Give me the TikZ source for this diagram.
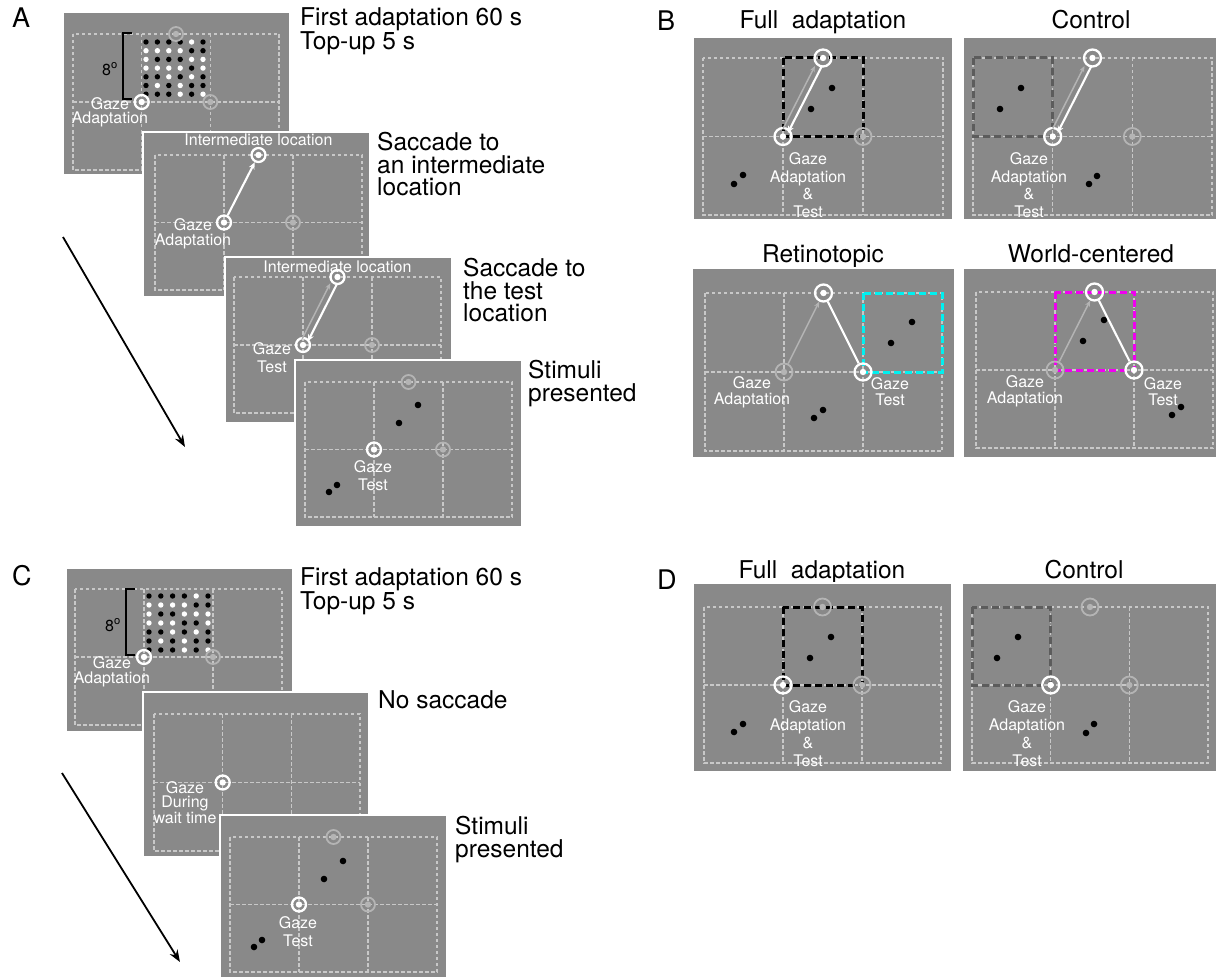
\documentclass[tikz,border=0pt]{standalone}
\usepackage{fontspec}
\setmainfont{TeX Gyre Heros}
\usetikzlibrary{arrows.meta}
\definecolor{scrgray}{HTML}{898989}
\definecolor{gridgray}{HTML}{C8C8C8}
\definecolor{ringgray}{HTML}{B4B4B4}
\definecolor{sqgray}{HTML}{5C5C5C}
\definecolor{dk}{gray}{0}
\definecolor{dw}{gray}{1}
\definecolor{cyanbox}{HTML}{00F0F0}
\definecolor{magbox}{HTML}{F000F0}
\tikzset{
  scr/.style={fill=scrgray, draw=white, line width=2pt},
  gridl/.style={draw=gridgray, line width=1.5pt, dash pattern=on 3.5pt off 2.5pt},
  wring/.style={circle, draw=white, line width=2.3pt, minimum size=#1, inner sep=0pt,
    path picture={\fill[white] (path picture bounding box.center) circle (3.2pt);}},
  wring/.default=14pt,
  gring/.style={circle, draw=ringgray, line width=1.8pt, minimum size=#1, inner sep=0pt,
    path picture={\fill[ringgray] (path picture bounding box.center) circle (3.2pt);}},
  gring/.default=14pt,
  wline/.style={draw=white, line width=2.1pt},
  warr/.style={wline, -{Stealth[length=7pt,width=6pt]}},
  garr/.style={draw=ringgray, line width=1.5pt, -{Stealth[length=6pt,width=5pt]}},
  bigarr/.style={draw=black, line width=1.8pt, -{Stealth[length=12pt,width=9pt]}},
  wlab/.style={text=white, font=\fontsize{16}{#1}\selectfont, align=center, inner sep=0pt},
  wlab/.default=17,
  btxt/.style={font=\fontsize{24.5}{22.5}\selectfont, align=left, anchor=north west, inner sep=0pt},
  ttl/.style={font=\fontsize{24.5}{22.5}\selectfont, anchor=base, inner sep=0pt},
  plet/.style={font=\fontsize{27}{27}\selectfont, anchor=base west, inner sep=0pt},
  sqbox/.style={line width=3pt, dash pattern=on 7pt off 4pt},
  degl/.style={font=\fontsize{16}{16}\selectfont, inner sep=0pt},
  bracket/.style={draw=black, line width=1.8pt}
}
\newcommand\myscreen[8]{%
  \draw[scr] (#1,#2) rectangle (#3,#4);
  \draw[gridl] (#5,#6) rectangle (#7,#8);
  \draw[gridl] ({#5+(#7-#5)/3},#6) -- ({#5+(#7-#5)/3},#8);
  \draw[gridl] ({#5+2*(#7-#5)/3},#6) -- ({#5+2*(#7-#5)/3},#8);
  \draw[gridl] (#5,{(#6+#8)/2}) -- (#7,{(#6+#8)/2});
}
\newcommand\mydots[5]{%
  \foreach \row [count=\r] in {#5} {
    \foreach \c [count=\i] in \row {
      \fill[color=\c] ({#1+(\i-1)*#3},{#2+(\r-1)*#4}) circle (2.7pt);
    }
  }
}
\newcommand\blackdot[2]{\fill[black] (#1,#2) circle (3.3pt);}
\begin{document}
\begin{tikzpicture}[x=1pt,y=-1pt]
\useasboundingbox (0,0) rectangle (1217,979);
\fill[white] (0,0) rectangle (1217,979);

% ================= Panel A =================
\node[plet] (letA) at (12,28) {A};
% screen A1
\myscreen{63}{12}{290}{175}{73}{34}{279}{170}
\mydots{146}{42}{11.4}{8.7}{{dk,dk,dk,dk,dw,dk},{dw,dw,dw,dw,dk,dk},{dw,dk,dk,dk,dw,dw},{dw,dw,dw,dw,dk,dw},{dk,dk,dw,dk,dw,dk},{dk,dw,dk,dw,dk,dk},{dk,dk,dk,dw,dk,dw}}
\draw[bracket] (132,33) -- (123,33) -- (123,99) -- (132,99);
\node[degl] (degA) at (110,69) {8\textsuperscript{o}};
\node[gring] (a1t) at (176,34) {};
\node[gring] (a1r) at (210.3,102) {};
\node[wring] (a1g) at (141.7,102) {};
\node[wlab=14] (a1l) at (110,112) {Gaze\\Adaptation};
\node[btxt] (tA1) at (300,7) {First adaptation 60 s\\Top-up 5 s};
% screen A2
\myscreen{143}{132}{370}{297}{155}{155}{362}{290}
\node[gring] (a2r) at (293,222.5) {};
\node[wring] (a2g) at (224,222.5) {};
\node[wring] (a2t) at (258.5,155) {};
\draw[warr] (a2g) -- (a2t);
\node[wlab] (a2i) at (258.5,140) {Intermediate location};
\node[wlab=15] (a2l) at (193,234) {Gaze\\Adaptation};
\node[btxt] (tA2) at (377,132) {Saccade to\\an intermediate\\location};
% screen A3
\myscreen{225}{257}{452}{423}{234}{277}{441}{413}
\node[gring] (a3r) at (372,345) {};
\node[wring] (a3g) at (303,345) {};
\node[wring] (a3t) at (337.5,277) {};
\draw[garr, shorten <=7pt, shorten >=7pt] ([xshift=-4pt]a3g.center) -- ([xshift=-4pt]a3t.center);
\draw[warr, shorten <=7pt, shorten >=4pt] ([xshift=3pt]a3t.center) -- ([xshift=3pt]a3g.center);
\node[wlab] (a3i) at (337.5,267) {Intermediate location};
\node[wlab=18] (a3l) at (272,358) {Gaze\\Test};
\node[btxt] (tA3) at (463,258) {Saccade to\\the test\\location};
% screen A4
\myscreen{295}{360}{522}{527}{305}{382}{512}{517}
\node[gring] (a4t) at (408.5,382) {};
\node[gring] (a4r) at (443,449.5) {};
\node[wring] (a4g) at (374,449.5) {};
\blackdot{418}{405}\blackdot{399}{423}\blackdot{337}{485}\blackdot{329}{492}
\node[wlab=18] (a4l) at (373,476) {Gaze\\Test};
\node[btxt] (tA4) at (528,360) {Stimuli\\presented};
% time arrow A
\coordinate (arA1) at (63,237);
\coordinate (arA2) at (185,447);
\draw[bigarr] (arA1) -- (arA2);

% ================= Panel C =================
\node[plet] (letC) at (12,585) {C};
\myscreen{66}{568}{293}{732}{75}{589}{282}{725}
\mydots{149}{596}{11.8}{9}{{dk,dk,dk,dk,dw,dk},{dw,dw,dw,dw,dk,dk},{dw,dk,dk,dw,dw,dw},{dw,dw,dw,dk,dk,dw},{dk,dk,dw,dk,dw,dk},{dk,dw,dk,dw,dk,dk},{dk,dk,dk,dw,dk,dw}}
\draw[bracket] (135,589) -- (126,589) -- (126,655) -- (135,655);
\node[degl] (degC) at (113,625) {8\textsuperscript{o}};
\node[gring] (c1r) at (213,657) {};
\node[wring] (c1g) at (144,657) {};
\node[wlab=15] (c1l) at (112,671.5) {Gaze\\Adaptation};
\node[btxt] (tC1) at (300,567) {First adaptation 60 s\\Top-up 5 s};
% C2
\myscreen{143}{692}{369}{857}{154}{714}{360}{851}
\node[wring] (c2g) at (222.7,782.5) {};
\node[wlab=14] (c2l) at (185,803) {Gaze\\During\\wait time};
\node[btxt] (tC2) at (378,690) {No saccade};
% C3
\myscreen{220}{815}{447}{978}{230}{837}{437}{972}
\node[gring] (c3t) at (333.5,837) {};
\node[gring] (c3r) at (368,904.5) {};
\node[wring] (c3g) at (299,904.5) {};
\blackdot{343}{861}\blackdot{324}{879}\blackdot{262}{940}\blackdot{254}{947}
\node[wlab=18] (c3l) at (298,932) {Gaze\\Test};
\node[btxt] (tC3) at (455,816) {Stimuli\\presented};
\coordinate (arC1) at (62,773);
\coordinate (arC2) at (180,962);
\draw[bigarr] (arC1) -- (arC2);

% ================= Panel B =================
\node[plet] (letB) at (657,31) {B};
% Full adaptation
\node[ttl] (tBF) at (823,29) {Full\ \ adaptation};
\myscreen{693}{37}{953}{220}{703}{58}{943}{215}
\draw[sqbox, black] (783,58) rectangle (863,136.5);
\blackdot{832}{88}\blackdot{811}{109}\blackdot{743}{175}\blackdot{734}{184}
\node[gring=17pt] (bfr) at (863,136.5) {};
\node[wring=17pt] (bfg) at (783,136.5) {};
\node[wring=17pt] (bft) at (823,58) {};
\draw[garr, shorten <=9pt, shorten >=9pt] ([xshift=-4pt]bfg.center) -- ([xshift=-4pt]bft.center);
\draw[warr, shorten <=9pt, shorten >=4pt] ([xshift=3pt]bft.center) -- ([xshift=3pt]bfg.center);
\node[wlab=17.5] (bfl) at (808,185) {Gaze\\Adaptation\\\&\\Test};
% Control
\node[ttl] (tBC) at (1091,29) {Control};
\myscreen{963}{37}{1217}{220}{973}{58}{1212}{215}
\draw[sqbox, sqgray] (973,58) rectangle (1052.7,136.5);
\blackdot{1021}{88}\blackdot{1000}{109}\blackdot{1097}{176}\blackdot{1089}{184}
\node[gring=17pt] (bcr) at (1132.3,136.5) {};
\node[wring=17pt] (bcg) at (1052.7,136.5) {};
\node[wring=17pt] (bct) at (1092.5,58) {};
\draw[garr, shorten <=9pt, shorten >=9pt] ([xshift=-4pt]bcg.center) -- ([xshift=-4pt]bct.center);
\draw[warr, shorten <=9pt, shorten >=4pt] ([xshift=3pt]bct.center) -- ([xshift=3pt]bcg.center);
\node[wlab=17.5] (bcl) at (1029,185) {Gaze\\Adaptation\\\&\\Test};
% Retinotopic
\node[ttl] (tBR) at (823,262) {Retinotopic};
\myscreen{692}{268}{955}{458}{705}{293}{942}{451}
\draw[sqbox, cyanbox] (863,293) rectangle (942,372);
\blackdot{912}{322}\blackdot{891}{343}\blackdot{823}{410}\blackdot{814}{418}
\node[gring=17pt] (bra) at (784,372) {};
\node[wring=17pt] (brt) at (823.5,293) {};
\node[wring=17pt] (brs) at (863,372) {};
\draw[garr] (bra) -- (brt);
\draw[wline] (brt) -- (brs);
\node[wlab=16] (bral) at (752,392) {Gaze\\Adaptation};
\node[wlab=16] (brsl) at (890,392) {Gaze\\Test};
% World-centered
\node[ttl] (tBW) at (1091,262) {World-centered};
\myscreen{963}{268}{1217}{458}{976}{292}{1213}{448}
\draw[sqbox, magbox] (1055,292) rectangle (1134,370);
\blackdot{1104}{320}\blackdot{1083}{341}\blackdot{1181}{407}\blackdot{1172}{415}
\node[gring=17pt] (bwa) at (1055,370) {};
\node[wring=17pt] (bwt) at (1094.5,292) {};
\node[wring=17pt] (bws) at (1134,370) {};
\draw[garr] (bwa) -- (bwt);
\draw[wline] (bwt) -- (bws);
\node[wlab=16] (bwal) at (1025,391.5) {Gaze\\Adaptation};
\node[wlab=16] (bwsl) at (1163,391.5) {Gaze\\Test};

% ================= Panel D =================
\node[plet] (letD) at (657,589) {D};
\node[ttl] (tDF) at (822,578) {Full\ \ adaptation};
\myscreen{693}{583}{952}{772}{704}{607}{941}{763}
\draw[sqbox, black] (783,607) rectangle (862,685);
\blackdot{831}{637}\blackdot{810}{658}\blackdot{743}{724}\blackdot{734}{732}
\node[gring=17pt] (dft) at (822.5,607) {};
\node[gring=17pt] (dfr) at (862,685) {};
\node[wring=17pt] (dfg) at (783,685) {};
\node[wlab=18] (dfl) at (808,733.5) {Gaze\\Adaptation\\\&\\Test};
\node[ttl] (tDC) at (1084,578) {Control};
\myscreen{962}{583}{1217}{772}{972}{607}{1208}{763}
\draw[sqbox, sqgray] (972,607) rectangle (1050.7,685);
\blackdot{1018}{637}\blackdot{997}{658}\blackdot{1094}{724}\blackdot{1086}{733}
\node[gring=17pt] (dct) at (1090,607) {};
\node[gring=17pt] (dcr) at (1129.3,685) {};
\node[wring=17pt] (dcg) at (1050.7,685) {};
\node[wlab=18] (dcl) at (1027,733.5) {Gaze\\Adaptation\\\&\\Test};
\end{tikzpicture}
\end{document}
